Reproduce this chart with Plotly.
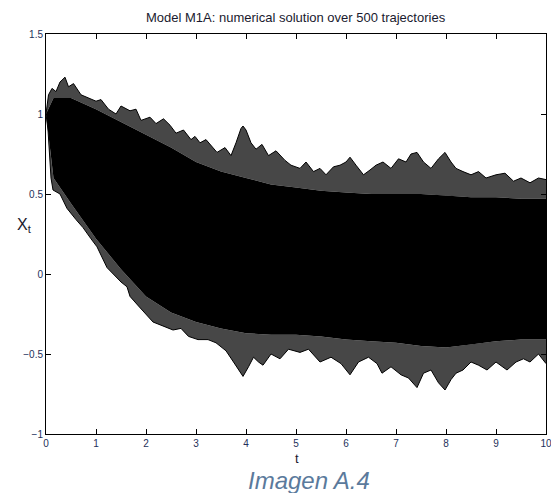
import plotly.graph_objects as go

# ---- data ----
# outer upper envelope (highest visible trajectory)
t_up = [0, 0.05, 0.12, 0.2, 0.28, 0.38, 0.45, 0.55, 0.7, 0.85, 1.0, 1.1, 1.25, 1.4, 1.5, 1.68, 1.8, 1.9,
        2.08, 2.2, 2.35, 2.48, 2.6, 2.75, 2.9, 2.98, 3.08, 3.2, 3.28, 3.42, 3.58, 3.7, 3.8, 3.9, 3.94, 4.0,
        4.1, 4.2, 4.32, 4.45, 4.6, 4.78, 4.9, 5.08, 5.2, 5.35, 5.48, 5.6, 5.75, 5.88, 6.0, 6.08, 6.2, 6.35,
        6.48, 6.6, 6.74, 6.9, 7.05, 7.2, 7.3, 7.42, 7.55, 7.7, 7.85, 7.98, 8.1, 8.2, 8.34, 8.5, 8.65, 8.8,
        9.0, 9.18, 9.35, 9.5, 9.68, 9.85, 10.0]
x_up = [1.0, 1.12, 1.16, 1.14, 1.2, 1.23, 1.17, 1.19, 1.12, 1.1, 1.08, 1.09, 1.03, 1.0, 1.05, 1.02, 1.03, 0.96,
        0.98, 0.94, 0.97, 0.93, 0.88, 0.9, 0.84, 0.86, 0.82, 0.84, 0.81, 0.76, 0.79, 0.74, 0.82, 0.91, 0.925, 0.9,
        0.82, 0.78, 0.81, 0.74, 0.77, 0.71, 0.68, 0.66, 0.7, 0.64, 0.66, 0.62, 0.67, 0.68, 0.7, 0.73, 0.68, 0.62,
        0.65, 0.68, 0.7, 0.66, 0.72, 0.7, 0.75, 0.76, 0.7, 0.66, 0.72, 0.76, 0.7, 0.66, 0.64, 0.62, 0.64, 0.6,
        0.62, 0.63, 0.58, 0.6, 0.57, 0.6, 0.59]

# outer lower envelope (lowest visible trajectory)
t_lo = [0, 0.04, 0.1, 0.14, 0.28, 0.42, 0.6, 0.74, 0.9, 1.02, 1.22, 1.4, 1.5, 1.62, 1.68, 1.85, 2.02, 2.14,
        2.3, 2.54, 2.7, 2.85, 3.04, 3.24, 3.4, 3.6, 3.75, 3.85, 3.94, 4.05, 4.15, 4.25, 4.34, 4.5, 4.68, 4.85,
        5.08, 5.25, 5.48, 5.7, 5.9, 6.08, 6.25, 6.45, 6.62, 6.72, 6.9, 7.1, 7.25, 7.42, 7.55, 7.7, 7.85, 7.98,
        8.1, 8.2, 8.34, 8.5, 8.65, 8.82, 9.0, 9.22, 9.4, 9.55, 9.68, 9.85, 10.0]
x_lo = [1.0, 0.9, 0.6, 0.525, 0.5, 0.41, 0.34, 0.29, 0.22, 0.17, 0.04, -0.02, -0.05, -0.08, -0.14, -0.2, -0.26, -0.3,
        -0.32, -0.35, -0.34, -0.39, -0.41, -0.41, -0.43, -0.48, -0.55, -0.6, -0.64, -0.58, -0.52, -0.55, -0.57, -0.5, -0.53, -0.47,
        -0.49, -0.47, -0.55, -0.52, -0.56, -0.63, -0.55, -0.52, -0.56, -0.62, -0.58, -0.63, -0.65, -0.71, -0.62, -0.6, -0.68, -0.725,
        -0.66, -0.62, -0.6, -0.55, -0.57, -0.6, -0.55, -0.6, -0.55, -0.53, -0.55, -0.5, -0.56]

# dense core of the 500 trajectories
t_core = [0, 0.15, 0.5, 1.0, 1.5, 2.0, 2.5, 3.0, 3.5, 4.0, 4.5, 5.0, 5.5, 6.0, 6.5, 7.0, 7.5, 8.0, 8.5, 9.0, 9.5, 10.0]
core_hi = [1.0, 1.1, 1.1, 1.03, 0.95, 0.87, 0.79, 0.7, 0.64, 0.6, 0.56, 0.54, 0.52, 0.51, 0.5, 0.5, 0.5, 0.49, 0.48, 0.48, 0.47, 0.47]
core_lo = [1.0, 0.6, 0.44, 0.22, 0.03, -0.14, -0.24, -0.3, -0.34, -0.37, -0.38, -0.38, -0.39, -0.41, -0.42, -0.43, -0.45, -0.46, -0.44, -0.42, -0.41, -0.41]

x_ticks = list(range(0, 11))
y_ticks = [-1, -0.5, 0, 0.5, 1, 1.5]
y_ticktext = ["\u22121", "\u22120.5", "0", "0.5", "1", "1.5"]

fig = go.Figure()

fringe = "rgba(0,0,0,0.72)"
# upper fringe
fig.add_trace(go.Scatter(x=t_up + t_core[::-1], y=x_up + core_hi[::-1], fill="toself",
                         fillcolor=fringe, line=dict(width=0), mode="lines", hoverinfo="skip"))
# lower fringe
fig.add_trace(go.Scatter(x=t_lo + t_core[::-1], y=x_lo + core_lo[::-1], fill="toself",
                         fillcolor=fringe, line=dict(width=0), mode="lines", hoverinfo="skip"))
# core
fig.add_trace(go.Scatter(x=t_core + t_core[::-1], y=core_hi + core_lo[::-1], fill="toself",
                         fillcolor="black", line=dict(width=0, color="black"), mode="lines", hoverinfo="skip"))
# envelope trajectories
fig.add_trace(go.Scatter(x=t_up, y=x_up, mode="lines", line=dict(color="black", width=1)))
fig.add_trace(go.Scatter(x=t_lo, y=x_lo, mode="lines", line=dict(color="black", width=1)))

tickfont = dict(family="Liberation Sans, Arial", size=10, color="#23305a")
fig.update_xaxes(range=[0, 10], tickvals=x_ticks, ticks="inside", ticklen=5, tickcolor="black",
                 showline=True, linecolor="black", linewidth=1, mirror="ticks", showgrid=False,
                 zeroline=False, tickfont=tickfont, ticklabeloverflow="allow", automargin=False)
fig.update_yaxes(range=[-1, 1.5], tickvals=y_ticks, ticktext=y_ticktext, ticks="inside", ticklen=5,
                 tickcolor="black", showline=True, linecolor="black", linewidth=1, mirror="ticks",
                 showgrid=False, zeroline=False, tickfont=tickfont, ticklabeloverflow="allow", automargin=False)

fig.update_layout(
    width=551, height=493, showlegend=False,
    margin=dict(l=46, r=5, t=34, b=59),
    plot_bgcolor="white", paper_bgcolor="white",
    annotations=[
        dict(text="Model M1A: numerical solution over 500 trajectories", xref="paper", yref="paper",
             x=0.5, y=1.04, yanchor="middle", showarrow=False,
             font=dict(family="Liberation Sans, Arial", size=13, color="#1a1a2e")),
        dict(text="X<sub>t</sub>", xref="paper", yref="paper", x=-0.062, y=0.5225, yanchor="middle",
             showarrow=False, font=dict(family="Liberation Sans, Arial", size=16, color="#1a1a2e")),
        dict(text="t", xref="paper", yref="paper", x=0.502, y=-0.062, yanchor="middle", showarrow=False,
             font=dict(family="Liberation Sans, Arial", size=13, color="#1a1a2e")),
        dict(text="<i>Imagen A.4</i>", xref="paper", yref="paper", x=0.526, y=-0.115, yanchor="middle",
             showarrow=False, font=dict(family="Liberation Sans, Arial", size=24, color="#5b7a9c")),
    ],
)

fig.write_html("out.html")
